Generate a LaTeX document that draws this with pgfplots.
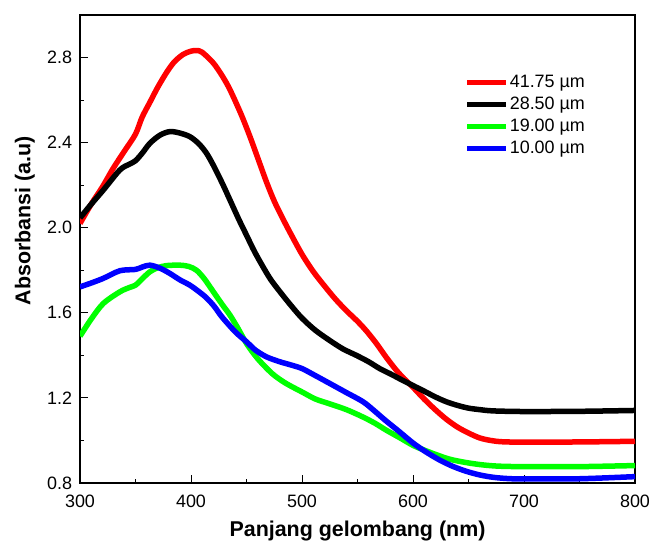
\documentclass[border=0pt]{standalone}
\usepackage{fontspec}
\setmainfont{Liberation Sans}
\usepackage{pgfplots}
\pgfplotsset{compat=1.18}

\begin{document}
\begin{tikzpicture}
\begin{axis}[
    scale only axis,
    width=555bp, height=468bp,
    xmin=300, xmax=800,
    ymin=0.8, ymax=3.0,
    xtick={300,400,500,600,700,800},
    ytick={0.8,1.2,1.6,2.0,2.4,2.8},
    minor tick num=1,
    tick align=inside,
    tick pos=left,
    major tick length=8bp,
    minor tick length=4bp,
    axis line style={line width=1.2bp},
    every tick/.style={black, line width=1bp},
    /pgf/number format/assume math mode=true,
    tick label style={font=\fontsize{18}{21}\selectfont},
    yticklabel style={xshift=-4.5bp, /pgf/number format/.cd, fixed, fixed zerofill, precision=1},
    xticklabel style={anchor=base, yshift=-24bp, /pgf/number format/.cd, 1000 sep={}},
    xlabel={Panjang gelombang (nm)},
    ylabel={Absorbansi (a.u)},
    xlabel style={font=\bfseries\fontsize{21.5}{24}\selectfont,
        at={(rel axis cs:0.5,0)}, anchor=base, inner sep=0pt, yshift=-53.5bp},
    % the label is turned by 90 degrees, so its own y axis points to the left
    ylabel style={font=\bfseries\fontsize{21.5}{24}\selectfont,
        at={(rel axis cs:0,0.56)}, anchor=south, inner sep=0pt, yshift=45bp},
    legend cell align=left,
    legend style={at={(rel axis cs:0.693,0.8745)}, anchor=north west,
        draw=none, fill=none, inner sep=0pt, row sep=4bp,
        font=\fontsize{18}{21}\selectfont,
        nodes={inner sep=1bp, text height=12.5bp, text depth=3.5bp}},
    legend image code/.code={\draw[#1, line width=5bp] (0bp,0bp) -- (39bp,0bp);},
    every axis plot/.append style={line width=5.5bp, smooth, no markers},
]
\coordinate (bl) at (rel axis cs:0,0);
\coordinate (tr) at (rel axis cs:1,1);

% 41.75 um
\addplot[red] coordinates {
(300,2.02) (310,2.11) (320,2.19) (330,2.28) (340,2.36) (350,2.44) (356,2.52)
(363,2.59) (370,2.66) (378,2.73) (385,2.78) (393,2.815) (400,2.83) (405,2.833)
(410,2.825) (420,2.775) (428,2.715) (435,2.65) (445,2.535) (453,2.43) (460,2.33)
(468,2.215) (475,2.125) (482,2.05) (490,1.97) (500,1.875) (510,1.795) (520,1.728)
(530,1.665) (540,1.61) (550,1.56) (558,1.515) (567,1.456) (576,1.39) (585,1.33)
(592,1.29) (600,1.25) (610,1.195) (620,1.145) (630,1.10) (640,1.063) (650,1.035)
(660,1.012) (670,1.0) (680,0.994) (700,0.992) (750,0.993) (800,0.996)
};
\addlegendentry{41.75 µm}

% 28.50 um
\addplot[black] coordinates {
(300,2.046) (310,2.11) (321,2.177) (336,2.272) (345,2.30) (350,2.315) (356,2.35)
(363,2.397) (372,2.435) (381,2.452) (390,2.445) (399,2.428) (407,2.395) (414,2.35)
(421,2.285) (429,2.20) (436,2.12) (443,2.04) (450,1.965) (457,1.89) (465,1.815)
(472,1.755) (480,1.70) (490,1.635) (500,1.575) (512,1.518) (525,1.47) (537,1.43)
(549,1.40) (560,1.37) (570,1.338) (580,1.312) (588,1.29) (600,1.258) (610,1.232)
(620,1.205) (630,1.182) (640,1.165) (650,1.152) (660,1.145) (672,1.139) (700,1.136)
(750,1.137) (800,1.141)
};
\addlegendentry{28.50 µm}

% 19.00 um
\addplot[green] coordinates {
(300,1.49) (310,1.57) (321,1.644) (336,1.699) (345,1.72) (350,1.73) (356,1.76)
(363,1.793) (370,1.812) (378,1.822) (390,1.824) (398,1.818) (405,1.80) (412,1.76)
(420,1.70) (428,1.64) (435,1.59) (442,1.53) (450,1.456) (460,1.385) (473,1.315)
(485,1.27) (500,1.228) (512,1.195) (525,1.172) (540,1.145) (555,1.11) (566,1.08)
(576,1.048) (588,1.013) (600,0.977) (610,0.955) (620,0.935) (633,0.912) (648,0.896)
(663,0.885) (678,0.879) (700,0.877) (750,0.877) (800,0.882)
};
\addlegendentry{19.00 µm}

% 10.00 um
\addplot[blue] coordinates {
(300,1.722) (310,1.74) (321,1.762) (336,1.798) (350,1.804) (356,1.815) (363,1.824)
(372,1.81) (381,1.785) (390,1.755) (399,1.73) (407,1.70) (414,1.67) (421,1.63)
(428,1.58) (440,1.51) (450,1.464) (458,1.425) (468,1.393) (480,1.37) (490,1.355)
(500,1.338) (512,1.305) (525,1.268) (540,1.225) (555,1.182) (565,1.14) (575,1.095)
(588,1.04) (600,0.988) (612,0.945) (624,0.908) (636,0.878) (648,0.855) (660,0.838)
(672,0.827) (685,0.821) (700,0.819) (750,0.82) (800,0.83)
};
\addlegendentry{10.00 µm}
\end{axis}
\pgfresetboundingbox
\path ([shift={(-80bp,-57bp)}]bl) rectangle ([shift={(15bp,15bp)}]tr);
\end{tikzpicture}
\end{document}
